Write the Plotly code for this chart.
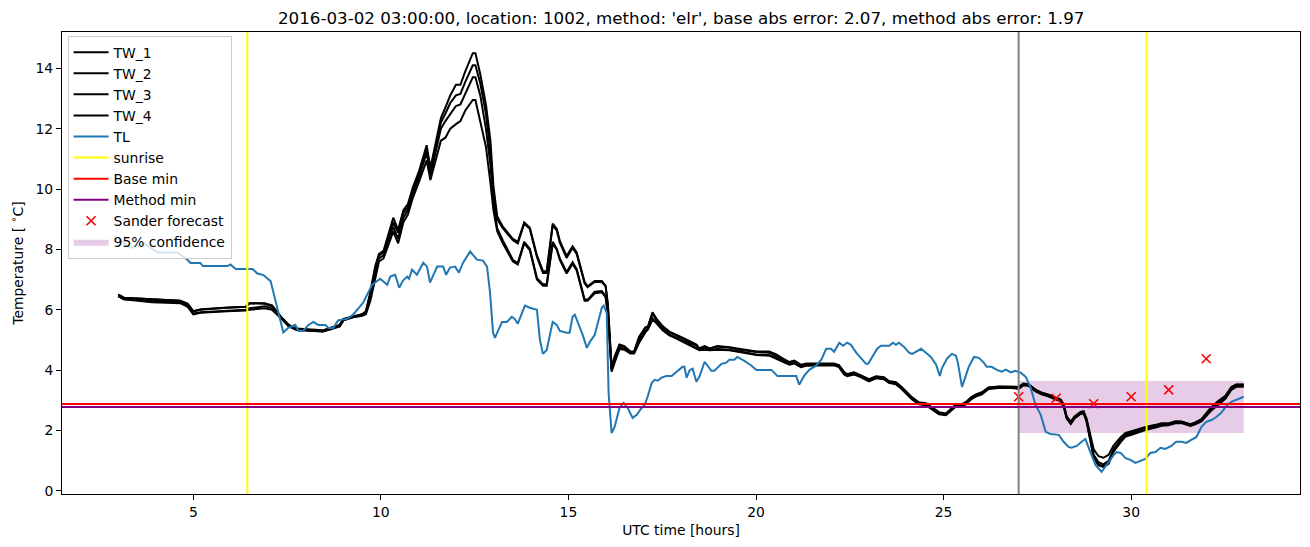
import plotly.graph_objects as go

# ---------------- data ----------------
tl_hours = [3.00, 3.15, 3.33, 3.68, 4.05, 4.58, 4.85, 4.93, 5.19, 5.25, 5.91, 5.99, 6.13, 6.58, 6.71, 6.87,
            7.06, 7.24, 7.40, 7.53, 7.72, 7.80, 7.93, 8.07, 8.20, 8.33, 8.52, 8.60, 8.73, 8.86, 9.10, 9.26,
            9.53, 9.66, 9.77, 9.98, 10.17, 10.25, 10.38, 10.49, 10.59, 10.70, 10.75, 10.83, 10.96, 11.13,
            11.23, 11.31, 11.50, 11.66, 11.74, 11.84, 11.98, 12.08, 12.19, 12.38, 12.56, 12.72, 12.83,
            12.91, 12.99, 13.04, 13.23, 13.36, 13.49, 13.57, 13.65, 13.84, 13.97, 14.16, 14.24, 14.32,
            14.42, 14.58, 14.69, 14.77, 14.95, 15.03, 15.11, 15.17, 15.30, 15.38, 15.49, 15.57, 15.70,
            15.89, 15.94, 16.02, 16.07, 16.15, 16.23, 16.36, 16.47, 16.58, 16.71, 16.82, 16.95, 17.03,
            17.11, 17.22, 17.30, 17.38, 17.48, 17.61, 17.75, 17.88, 18.04, 18.09, 18.15, 18.23, 18.31,
            18.41, 18.49, 18.63, 18.81, 18.89, 19.08, 19.21, 19.29, 19.42, 19.50, 19.69, 19.88, 20.01,
            20.41, 20.57, 20.83, 21.07, 21.15, 21.28, 21.42, 21.60, 21.74, 21.87, 22.00, 22.08, 22.22,
            22.32, 22.43, 22.53, 22.67, 22.80, 22.93, 22.99, 23.07, 23.15, 23.23, 23.33, 23.55, 23.65,
            23.73, 23.81, 23.94, 24.08, 24.16, 24.26, 24.40, 24.53, 24.66, 24.80, 24.90, 24.96, 25.09,
            25.22, 25.33, 25.38, 25.49, 25.59, 25.67, 25.81, 25.94, 26.07, 26.15, 26.28, 26.42, 26.55,
            26.66, 26.79, 26.92, 27.06, 27.19, 27.32, 27.45, 27.59, 27.72, 27.85, 28.07, 28.20, 28.33,
            28.41, 28.55, 28.68, 28.78, 28.92, 29.05, 29.21, 29.34, 29.53, 29.61, 29.72, 29.85, 29.98,
            30.11, 30.25, 30.38, 30.51, 30.65, 30.78, 30.91, 31.07, 31.20, 31.34, 31.47, 31.60, 31.74,
            31.87, 32.00, 32.14, 32.27, 32.40, 32.54, 32.67, 32.80, 33.00]
tl_temp = [8.40, 8.20, 8.05, 8.20, 7.90, 7.90, 7.65, 7.55, 7.55, 7.45, 7.45, 7.50, 7.35, 7.35, 7.20, 7.15,
           6.95, 6.10, 5.25, 5.40, 5.50, 5.30, 5.30, 5.50, 5.60, 5.50, 5.50, 5.40, 5.40, 5.65, 5.70, 5.84,
           6.24, 6.57, 6.83, 7.03, 6.83, 7.10, 7.16, 6.73, 6.97, 7.10, 7.03, 7.33, 7.16, 7.56,
           7.43, 6.90, 7.43, 7.43, 7.16, 7.40, 7.43, 7.23, 7.56, 7.93, 7.66, 7.63, 7.43,
           6.57, 5.24, 5.07, 5.60, 5.60, 5.77, 5.70, 5.54, 6.14, 6.07, 6.00, 5.00, 4.54,
           4.67, 5.60, 5.50, 5.30, 5.24, 5.24, 5.77, 5.84, 5.44, 5.17, 4.74, 4.94, 5.17,
           6.07, 6.14, 5.90, 3.25, 1.92, 2.12, 2.75, 2.92, 2.75, 2.42, 2.52, 2.75, 2.85,
           3.12, 3.58, 3.68, 3.65, 3.75, 3.81, 3.81, 3.95, 4.11, 4.11, 3.75, 4.00, 4.05,
           3.62, 3.78, 4.28, 3.98, 3.98, 4.21, 4.25, 4.35, 4.35, 4.44, 4.31, 4.15, 4.01,
           4.01, 3.81, 3.81, 3.81, 3.52, 3.81, 4.01, 4.15, 4.35, 4.71, 4.71, 4.61, 4.91,
           4.81, 4.91, 4.84, 4.58, 4.38, 4.21, 4.21, 4.38, 4.51, 4.71, 4.81, 4.81, 4.91,
           4.84, 4.91, 4.78, 4.58, 4.54, 4.61, 4.71, 4.58, 4.44, 4.18, 3.81, 4.08, 4.38,
           4.54, 4.48, 4.25, 3.45, 3.81, 4.11, 4.44, 4.41, 4.25, 4.11, 4.11, 4.01, 3.95,
           4.02, 3.93, 3.98, 3.91, 3.78, 3.42, 2.85, 2.52, 1.96, 1.89, 1.86, 1.63, 1.46,
           1.43, 1.49, 1.63, 1.72, 1.26, 0.86, 0.63, 0.86, 1.19, 1.29, 1.26, 1.09, 1.03,
           0.93, 1.00, 1.06, 1.26, 1.29, 1.43, 1.39, 1.49, 1.63, 1.63, 1.59, 1.69, 1.79,
           2.12, 2.29, 2.35, 2.45, 2.59, 2.82, 2.95, 3.02, 3.12]

tw_hours = [3.00, 3.15, 3.90, 4.65, 4.85, 5.00, 5.20, 5.65, 5.90, 6.40, 6.50, 6.90, 7.10, 7.35, 7.55,
            7.75, 8.45, 8.65, 8.90, 9.00, 9.25, 9.50,
            9.60, 9.72, 9.85, 9.95, 10.07, 10.17, 10.33, 10.46, 10.60, 10.72, 10.85, 11.02, 11.22,
            11.32, 11.45, 11.60, 11.72, 11.85, 12.00, 12.12, 12.25, 12.45, 12.52, 12.65, 12.80, 12.92,
            13.00, 13.10, 13.25, 13.52, 13.65, 13.82,
            13.97, 14.16, 14.32, 14.42, 14.58, 14.69, 14.77, 14.95, 15.11, 15.22, 15.43, 15.51, 15.70,
            15.89, 15.99, 16.05, 16.15, 16.23, 16.36, 16.49, 16.65, 16.75, 16.88, 17.05, 17.12, 17.24,
            17.35, 17.51, 17.69, 17.88, 18.04, 18.23, 18.41, 18.49, 18.63, 18.76, 18.97, 19.29, 19.56,
            20.01, 20.35, 20.54, 20.70, 20.89, 21.02, 21.20, 21.34, 21.68, 21.90, 22.08, 22.21, 22.35,
            22.43, 22.61, 22.80, 23.01, 23.20, 23.41, 23.54, 23.73, 23.86, 24.02, 24.16, 24.34, 24.53,
            24.69, 24.88, 25.06, 25.19, 25.33, 25.46, 25.59, 25.73, 25.86, 26.02, 26.20, 26.47, 26.82,
            27.00, 27.13, 27.27, 27.45, 27.61, 27.80, 27.99, 28.12, 28.20, 28.28, 28.39, 28.49, 28.65,
            28.73, 28.81, 28.92, 29.00, 29.13, 29.26, 29.40, 29.53, 29.72, 29.85, 30.01, 30.19, 30.38,
            30.65, 30.81, 30.99, 31.18, 31.34, 31.58, 31.71, 31.87, 32.14, 32.32, 32.51, 32.67, 32.80,
            33.00]
tw_1 = [6.50, 6.40, 6.35, 6.30, 6.20, 5.95, 6.02, 6.05, 6.08, 6.10, 6.22, 6.22, 6.15, 5.75, 5.50,
        5.38, 5.32, 5.40, 5.50, 5.70, 5.78, 5.85,
        5.95, 6.60, 7.45, 7.85, 7.95, 8.40, 9.05, 8.65, 9.30, 9.50, 10.05, 10.60, 11.45,
        10.70, 11.50, 12.35, 12.70, 13.10, 13.45, 13.45, 13.90, 14.50, 14.50, 13.80, 12.80, 11.60,
        10.10, 9.10, 8.75, 8.35, 8.25, 8.90,
        8.72, 7.80, 7.28, 7.28, 8.85, 8.68, 8.28, 7.78, 8.10, 7.90, 6.92, 6.78, 6.95,
        6.95, 6.80, 6.20, 4.10, 4.45, 4.85, 4.80, 4.62, 4.62, 5.10, 5.42, 5.45, 5.92,
        5.70, 5.46, 5.28, 5.18, 5.08, 4.96, 4.85, 4.72, 4.80, 4.72, 4.80, 4.76, 4.70,
        4.62, 4.62, 4.52, 4.40, 4.27, 4.32, 4.18, 4.22, 4.22, 4.20, 4.22, 4.17, 3.94,
        3.87, 3.93, 3.83, 3.70, 3.80, 3.77, 3.64, 3.60, 3.47, 3.27, 3.10, 2.94, 2.91,
        2.77, 2.61, 2.57, 2.70, 2.87, 2.86, 2.94, 3.10, 3.20, 3.27, 3.43, 3.46, 3.46,
        3.45, 3.56, 3.53, 3.36, 3.26, 3.19, 3.09, 3.03, 2.87, 2.47, 2.30, 2.47, 2.62,
        2.64, 2.40, 1.80, 1.38, 1.15, 1.10, 1.20, 1.50, 1.78, 1.92, 1.98, 2.06, 2.12,
        2.19, 2.24, 2.24, 2.31, 2.30, 2.21, 2.27, 2.38, 2.78, 2.98, 3.15, 3.44, 3.53,
        3.53]
tw_2 = [6.50, 6.40, 6.35, 6.30, 6.20, 5.95, 6.00, 6.05, 6.08, 6.10, 6.22, 6.20, 6.12, 5.75, 5.48,
        5.35, 5.30, 5.40, 5.48, 5.68, 5.77, 5.85,
        5.92, 6.50, 7.35, 7.80, 7.90, 8.30, 8.90, 8.55, 9.20, 9.40, 9.95, 10.50, 11.30,
        10.60, 11.40, 12.20, 12.50, 12.85, 13.10, 13.15, 13.55, 14.10, 14.10, 13.50, 12.50, 11.20,
        9.90, 9.00, 8.70, 8.30, 8.20, 8.85,
        8.68, 7.75, 7.22, 7.22, 8.80, 8.62, 8.22, 7.72, 8.05, 7.85, 6.88, 6.75, 6.92,
        6.92, 6.78, 6.15, 4.05, 4.40, 4.82, 4.78, 4.60, 4.60, 5.05, 5.40, 5.42, 5.88,
        5.65, 5.42, 5.25, 5.15, 5.05, 4.92, 4.82, 4.72, 4.78, 4.72, 4.78, 4.75, 4.68,
        4.60, 4.58, 4.48, 4.36, 4.25, 4.30, 4.15, 4.20, 4.20, 4.18, 4.20, 4.15, 3.92,
        3.85, 3.91, 3.81, 3.68, 3.78, 3.75, 3.62, 3.58, 3.45, 3.25, 3.08, 2.92, 2.89,
        2.75, 2.59, 2.55, 2.69, 2.85, 2.85, 2.92, 3.08, 3.18, 3.25, 3.42, 3.45, 3.45,
        3.44, 3.55, 3.52, 3.35, 3.25, 3.18, 3.08, 3.02, 2.85, 2.45, 2.27, 2.45, 2.60,
        2.62, 2.36, 1.70, 1.20, 0.95, 0.88, 1.00, 1.38, 1.70, 1.87, 1.93, 2.02, 2.09,
        2.16, 2.22, 2.22, 2.29, 2.29, 2.19, 2.26, 2.35, 2.75, 2.95, 3.12, 3.42, 3.52,
        3.52]
tw_3 = [6.45, 6.35, 6.30, 6.25, 6.15, 5.88, 5.92, 5.95, 5.98, 6.00, 6.05, 6.12, 6.05, 5.72, 5.45,
        5.35, 5.28, 5.38, 5.45, 5.65, 5.75, 5.82,
        5.88, 6.40, 7.25, 7.70, 7.80, 8.20, 8.75, 8.35, 9.05, 9.30, 9.85, 10.40, 11.20,
        10.45, 11.20, 12.00, 12.25, 12.50, 12.75, 12.80, 13.15, 13.70, 13.70, 13.10, 12.00, 10.80,
        9.60, 8.70, 8.30, 7.65, 7.55, 8.25,
        8.02, 7.05, 6.85, 6.85, 8.25, 8.02, 7.70, 7.25, 7.58, 7.35, 6.35, 6.33, 6.60,
        6.62, 6.45, 5.90, 4.00, 4.30, 4.75, 4.72, 4.58, 4.58, 4.95, 5.30, 5.38, 5.72,
        5.58, 5.35, 5.18, 5.08, 4.98, 4.86, 4.75, 4.68, 4.72, 4.68, 4.70, 4.68, 4.62,
        4.52, 4.50, 4.42, 4.30, 4.20, 4.25, 4.12, 4.18, 4.18, 4.16, 4.18, 4.12, 3.88,
        3.82, 3.88, 3.78, 3.65, 3.75, 3.72, 3.60, 3.55, 3.42, 3.22, 3.05, 2.89, 2.86,
        2.72, 2.56, 2.53, 2.66, 2.82, 2.82, 2.89, 3.05, 3.15, 3.22, 3.40, 3.43, 3.43,
        3.40, 3.52, 3.50, 3.32, 3.22, 3.15, 3.05, 2.99, 2.82, 2.42, 2.24, 2.42, 2.57,
        2.60, 2.33, 1.66, 1.15, 0.88, 0.82, 0.94, 1.33, 1.66, 1.83, 1.89, 1.98, 2.05,
        2.12, 2.19, 2.20, 2.26, 2.27, 2.17, 2.23, 2.32, 2.70, 2.90, 3.08, 3.38, 3.48,
        3.48]
tw_4 = [6.45, 6.35, 6.25, 6.22, 6.10, 5.85, 5.90, 5.92, 5.95, 5.98, 6.00, 6.05, 6.00, 5.70, 5.45,
        5.33, 5.28, 5.35, 5.45, 5.65, 5.75, 5.80,
        5.85, 6.30, 7.10, 7.60, 7.70, 8.05, 8.60, 8.20, 8.90, 9.15, 9.70, 10.25, 10.95,
        10.30, 10.90, 11.60, 11.70, 12.00, 12.15, 12.25, 12.60, 12.95, 12.95, 12.20, 11.40, 10.20,
        9.30, 8.60, 8.20, 7.60, 7.50, 8.20,
        7.98, 7.00, 6.80, 6.80, 8.20, 7.98, 7.65, 7.20, 7.52, 7.30, 6.30, 6.30, 6.55,
        6.58, 6.42, 5.85, 3.95, 4.25, 4.70, 4.68, 4.55, 4.55, 4.90, 5.25, 5.35, 5.68,
        5.55, 5.32, 5.15, 5.05, 4.95, 4.83, 4.72, 4.66, 4.68, 4.66, 4.68, 4.66, 4.60,
        4.50, 4.48, 4.38, 4.28, 4.18, 4.22, 4.10, 4.15, 4.15, 4.14, 4.16, 4.10, 3.86,
        3.80, 3.86, 3.76, 3.63, 3.73, 3.70, 3.58, 3.53, 3.40, 3.20, 3.03, 2.87, 2.84,
        2.70, 2.54, 2.51, 2.64, 2.80, 2.80, 2.87, 3.03, 3.13, 3.20, 3.38, 3.41, 3.41,
        3.38, 3.50, 3.48, 3.30, 3.20, 3.13, 3.03, 2.97, 2.80, 2.40, 2.22, 2.40, 2.55,
        2.58, 2.30, 1.62, 1.10, 0.85, 0.80, 0.90, 1.30, 1.62, 1.80, 1.86, 1.95, 2.02,
        2.10, 2.16, 2.18, 2.24, 2.25, 2.15, 2.21, 2.30, 2.67, 2.87, 3.05, 3.35, 3.45,
        3.45]

sunrise_hours = [6.44, 30.41]
forecast_start_hour = 27.0
base_min = 2.88
method_min = 2.78
sander_hours = [27, 28, 29, 30, 31, 32]
sander_temp = [3.12, 3.07, 2.89, 3.12, 3.35, 4.38]
band_hours = [27.0, 33.0]
band_low = [1.92, 1.92]
band_high = [3.64, 3.64]

title_text = ("2016-03-02 03:00:00, location: 1002, method: 'elr', "
              "base abs error: 2.07, method abs error: 1.97")

FONT = "DejaVu Sans"
BLUE = "#1f77b4"

fig = go.Figure()

# confidence band (drawn first, below everything)
fig.add_trace(go.Scatter(
    x=band_hours + band_hours[::-1], y=band_low + band_high[::-1],
    fill="toself", fillcolor="rgba(128,0,128,0.2)", line=dict(width=0),
    mode="lines", name="95% confidence", legendrank=10, hoverinfo="skip"))

for i, tw in enumerate([tw_1, tw_2, tw_3, tw_4]):
    fig.add_trace(go.Scatter(x=tw_hours, y=tw, mode="lines", name=f"TW_{i+1}",
                             line=dict(color="black", width=2), legendrank=i + 1))

fig.add_trace(go.Scatter(x=tl_hours, y=tl_temp, mode="lines", name="TL",
                         line=dict(color=BLUE, width=2), legendrank=5))

# legend-only entries for reference lines (lines themselves drawn as shapes)
for nm, col, rk in [("sunrise", "yellow", 6), ("Base min", "red", 7), ("Method min", "purple", 8)]:
    fig.add_trace(go.Scatter(x=[None], y=[None], mode="lines", name=nm,
                             line=dict(color=col, width=2), legendrank=rk))

fig.add_trace(go.Scatter(x=sander_hours, y=sander_temp, mode="markers", name="Sander forecast",
                         marker=dict(symbol="x-thin", size=9, color="red",
                                     line=dict(color="red", width=1.6)),
                         legendrank=9))

shapes = []
for h in sunrise_hours:
    shapes.append(dict(type="line", xref="x", yref="y domain", x0=h, x1=h, y0=0, y1=1,
                       line=dict(color="yellow", width=2), layer="above"))
shapes.append(dict(type="line", xref="x", yref="y domain", x0=forecast_start_hour,
                   x1=forecast_start_hour, y0=0, y1=1,
                   line=dict(color="gray", width=2), layer="above"))
shapes.append(dict(type="line", xref="x domain", yref="y", x0=0, x1=1, y0=base_min, y1=base_min,
                   line=dict(color="red", width=2), layer="above"))
shapes.append(dict(type="line", xref="x domain", yref="y", x0=0, x1=1, y0=method_min,
                   y1=method_min, line=dict(color="purple", width=2), layer="above"))

axis_common = dict(showline=True, linecolor="black", linewidth=1, mirror=True,
                   ticks="outside", ticklen=5, tickwidth=1, tickcolor="black",
                   showgrid=False, zeroline=False, automargin=False,
                   tickfont=dict(family=FONT, size=13.9, color="black"))

fig.update_layout(
    width=1310, height=547,
    margin=dict(l=62, r=10, t=32, b=53),
    paper_bgcolor="white", plot_bgcolor="white",
    font=dict(family=FONT, size=13.9, color="black"),
    title=dict(text=title_text, x=0.52, xref="container", xanchor="center",
               y=1 - 18 / 547, yref="container", yanchor="middle",
               font=dict(family=FONT, size=16.7, color="black")),
    xaxis=dict(range=[1.5, 34.5], tickvals=[5, 10, 15, 20, 25, 30],
               title=dict(text="UTC time [hours]", standoff=6,
                          font=dict(family=FONT, size=13.9)), **axis_common),
    yaxis=dict(range=[-0.1, 15.2], tickvals=[0, 2, 4, 6, 8, 10, 12, 14],
               title=dict(text="Temperature [ <sup>∘</sup>C]", standoff=8,
                          font=dict(family=FONT, size=13.9)), **axis_common),
    legend=dict(x=0.0045, y=0.992, xanchor="left", yanchor="top",
                bgcolor="rgba(255,255,255,0.8)", bordercolor="#cccccc", borderwidth=1,
                font=dict(family=FONT, size=13.9, color="black"),
                itemwidth=35, tracegroupgap=0),
    shapes=shapes,
    showlegend=True,
)

fig.write_html("out.html")
